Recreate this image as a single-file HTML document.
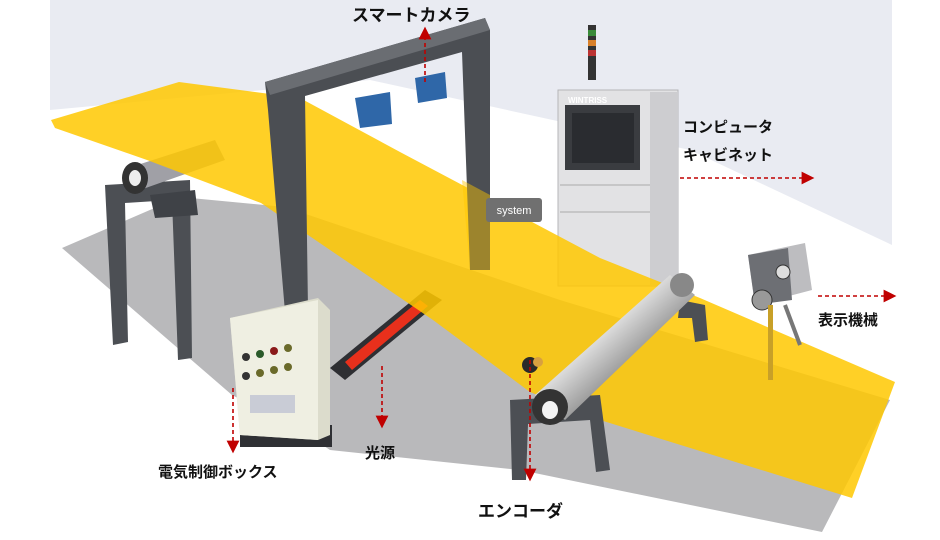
<!DOCTYPE html>
<html><head><meta charset="utf-8"><style>
html,body{margin:0;padding:0;background:#fff;}
svg{display:block;}
text{font-family:"Liberation Sans","Noto Sans CJK JP",sans-serif;font-weight:bold;fill:#111;}
</style></head><body>
<svg width="940" height="540" viewBox="0 0 940 540" xmlns="http://www.w3.org/2000/svg">
<defs>
<linearGradient id="roll" x1="0" y1="0" x2="1" y2="1">
<stop offset="0" stop-color="#555"/><stop offset="0.35" stop-color="#f4f4f4"/><stop offset="0.6" stop-color="#9a9a9a"/><stop offset="1" stop-color="#333"/>
</linearGradient>
<marker id="ah" markerWidth="8" markerHeight="8" refX="4" refY="4" orient="auto"><path d="M0,0 L8,4 L0,8 z" fill="#c00000"/></marker>
</defs>
<rect x="0" y="0" width="940" height="540" fill="#fff"/>
<polygon points="50,0 892,0 892,245 690,150 370,80 50,110" fill="#e9ebf2"/>
<polygon points="62,248 180,197 285,207 560,300 890,400 822,532 520,470 330,450 300,430 232,395" fill="#b9b9bb"/>
<!-- left roll stand -->
<polygon points="105,185 190,180 192,358 178,360 172,200 125,203 128,342 113,345" fill="#4c4f54"/>
<polygon points="150,195 195,190 198,215 155,218" fill="#3f4247"/>
<!-- cabinet -->
<rect x="558" y="90" width="120" height="196" fill="#e2e2e4" stroke="#b5b5b8"/>
<rect x="650" y="92" width="28" height="193" fill="#cdcdd0"/>
<rect x="565" y="105" width="75" height="65" fill="#3a3c40"/>
<rect x="572" y="113" width="62" height="50" fill="#2a2c30"/>
<text x="568" y="103" font-size="8" style="fill:#fff">WINTRISS</text>
<line x1="560" y1="185" x2="650" y2="185" stroke="#aaa"/>
<line x1="560" y1="212" x2="650" y2="212" stroke="#aaa"/>
<rect x="588" y="25" width="8" height="55" fill="#333"/>
<rect x="588" y="30" width="8" height="6" fill="#3a8a3a"/>
<rect x="588" y="40" width="8" height="6" fill="#d8802a"/>
<rect x="588" y="50" width="8" height="6" fill="#b33"/>
<!-- left roll -->
<polygon points="128,168 215,140 225,160 140,190" fill="#a0a0a6"/>
<!-- light source -->
<polygon points="330,368 425,290 442,300 345,380" fill="#2e2f33"/>
<polygon points="345,362 420,300 428,306 352,370" fill="#e8301c"/>
<!-- yellow sheet -->
<polygon points="51,120 179,82 300,98 400,152 500,205 600,258 700,298 895,382 852,498 600,420 530,392 433,320 261,203 147,160 55,128" fill="#ffc800" opacity="0.85"/>
<ellipse cx="135" cy="178" rx="13" ry="16" fill="#333"/>
<ellipse cx="135" cy="178" rx="6" ry="8" fill="#eee"/>
<!-- gantry -->
<polygon points="265,82 485,18 490,30 490,270 470,270 462,52 305,96 308,310 285,312 268,110" fill="#4b4e53"/>
<polygon points="265,82 485,18 490,30 270,95" fill="#6a6d72"/>
<polygon points="462,180 490,195 490,270 470,270" fill="#ffc800" opacity="0.45"/>
<polygon points="355,98 390,92 392,124 360,128" fill="#2f67a8"/>
<polygon points="415,78 445,72 447,98 418,103" fill="#2f67a8"/>
<!-- electric box -->
<rect x="240" y="425" width="92" height="22" fill="#2f3034"/>
<polygon points="230,318 318,298 330,310 330,435 318,440 240,435" fill="#dcdccc"/>
<polygon points="230,318 318,300 318,440 240,435" fill="#efefe2"/>
<g fill="#333">
<circle cx="246" cy="357" r="4"/><circle cx="260" cy="354" r="4" fill="#2a5a2a"/><circle cx="274" cy="351" r="4" fill="#8a1a1a"/><circle cx="288" cy="348" r="4" fill="#6a6a2a"/>
<circle cx="246" cy="376" r="4"/><circle cx="260" cy="373" r="4" fill="#6a6a2a"/><circle cx="274" cy="370" r="4" fill="#6a6a2a"/><circle cx="288" cy="367" r="4" fill="#6a6a2a"/>
</g>
<rect x="250" y="395" width="45" height="18" fill="#c9ccd6"/>
<!-- right roller stand -->
<polygon points="510,400 600,395 610,470 596,472 590,420 528,424 526,480 512,480" fill="#4c4f54"/>
<polygon points="680,300 705,305 708,340 695,342 692,318 678,318" fill="#4c4f54"/>
<polygon points="535,395 670,275 695,295 565,420" fill="url(#roll)"/>
<ellipse cx="682" cy="285" rx="12" ry="12" fill="#888"/>
<ellipse cx="550" cy="407" rx="18" ry="18" fill="#333"/>
<ellipse cx="550" cy="410" rx="8" ry="9" fill="#f4f4f4"/>
<circle cx="530" cy="365" r="8" fill="#2a2a2a"/>
<circle cx="538" cy="362" r="5" fill="#d8a040"/>
<!-- display machine -->
<polygon points="748,255 805,243 812,290 755,305" fill="#bdbdc0"/>
<polygon points="748,255 788,248 792,300 755,305" fill="#6d6f74"/>
<circle cx="762" cy="300" r="10" fill="#999" stroke="#333"/>
<circle cx="783" cy="272" r="7" fill="#ddd" stroke="#333"/>
<rect x="768" y="305" width="5" height="75" fill="#c8a028"/>
<line x1="785" y1="305" x2="800" y2="345" stroke="#777" stroke-width="4"/>
<rect x="486" y="198" width="56" height="24" rx="3" fill="#707070"/>
<text x="514" y="214" font-size="11" text-anchor="middle" style="fill:#fff;font-weight:normal">system</text>
<g stroke="#c00000" stroke-width="1.6" stroke-dasharray="4,3" fill="none">
<line x1="425" y1="82" x2="425" y2="33" marker-end="url(#ah)"/>
<line x1="680" y1="178" x2="808" y2="178" marker-end="url(#ah)"/>
<line x1="818" y1="296" x2="890" y2="296" marker-end="url(#ah)"/>
<line x1="382" y1="366" x2="382" y2="422" marker-end="url(#ah)"/>
<line x1="233" y1="388" x2="233" y2="447" marker-end="url(#ah)"/>
<line x1="530" y1="360" x2="530" y2="475" marker-end="url(#ah)"/>
</g>
<text x="352" y="21" font-size="17">スマートカメラ</text>
<text x="683" y="132" font-size="15">コンピュータ</text>
<text x="683" y="160" font-size="15">キャビネット</text>
<text x="818" y="325" font-size="15">表示機械</text>
<text x="365" y="458" font-size="15">光源</text>
<text x="158" y="477" font-size="15">電気制御ボックス</text>
<text x="478" y="517" font-size="17">エンコーダ</text>
</svg>
</body></html>
